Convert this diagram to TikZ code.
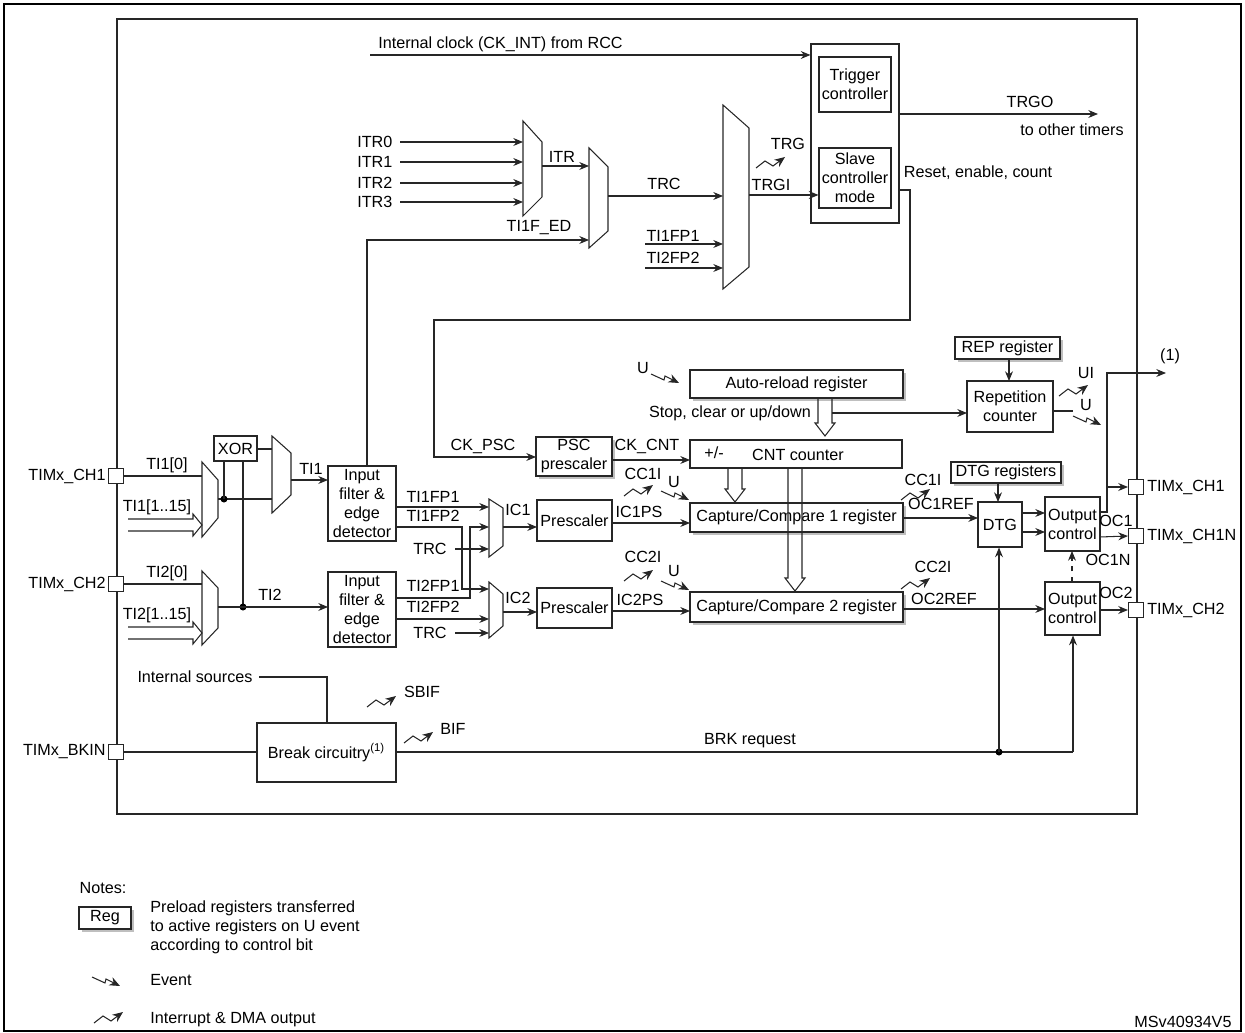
\documentclass[tikz,border=0pt]{standalone}
\usepackage{fontspec}
\setmainfont{Liberation Sans}
\usetikzlibrary{arrows.meta,fit}

\tikzset{
  wire/.style={line width=0.6pt, draw=black!85},
  arr/.style={wire, -{Stealth[length=5.5pt,width=4.5pt]}},
  sigmark/.style={wire, -{Stealth[length=6pt,width=5pt]}},
  box/.style={wire, inner sep=0pt, align=center},
  reg/.style={box, preaction={draw=none, fill=black!25, transform canvas={shift={(3,3)}}}, fill=white},
  lbl/.style={inner sep=0pt, align=center},
  dot/.style={circle, fill=black, inner sep=0pt, minimum size=4pt}
}
% multiplexer trapezoid: x1, y-top-left, y-bottom-left, x2, y-top-right, y-bottom-right
\newcommand{\muxer}[6]{\draw[wire] (#1,#2) -- (#4,#5) -- (#4,#6) -- (#1,#3) -- cycle;}
% event and interrupt marks
\newcommand{\evtmark}[2]{\draw[sigmark] (#1,#2) -- ++(13,6) -- ++(1,-4) -- ++(14,7);}
\newcommand{\irqmark}[2]{\draw[sigmark] (#1,#2) -- ++(9,-7) -- ++(8,5) -- ++(12,-9);}
% hollow arrows
\newcommand{\holdown}[3]{\draw[wire] (#1-7,#2) -- (#1-7,#3-13) -- (#1-10,#3-13) -- (#1,#3) -- (#1+10,#3-13) -- (#1+7,#3-13) -- (#1+7,#2);}
\newcommand{\holright}[3]{\draw[wire] (#1,#3-6) -- (#2-9,#3-6) -- (#2-9,#3-11) -- (#2,#3) -- (#2-9,#3+11) -- (#2-9,#3+6) -- (#1,#3+6);}

\begin{document}
\begin{tikzpicture}[x=0.02cm, y=-0.02cm, font=\fontsize{9.2}{10.8}\selectfont]
\useasboundingbox (0,0) rectangle (1245,1033);
\draw[line width=0.8pt] (4,4) rectangle (1241,1031);
\draw[wire] (117,19) rectangle (1137,814);

% trigger part
\node[box, fit={(811,44)(899,223)}] (ctl) {};
\node[box, fit={(819,57)(891,112)}] (trig) {};
\node[lbl] at (trig.center) {Trigger\\controller};
\node[box, fit={(819,148)(891,208)}] (slave) {};
\node[lbl] at (slave.center) {Slave\\controller\\mode};
\coordinate (ckint) at (370,55);
\draw[arr] (ckint) -- (ckint -| ctl.west);
\node[lbl, anchor=west] at (378,44) {Internal clock (CK\_INT) from RCC};
\coordinate (trgo) at (1098,114);
\draw[arr] (ctl.east |- trgo) -- (trgo);
\node[lbl] at (1030,102) {TRGO};
\node[lbl] at (1072,130) {to other timers};
\node[lbl] at (978,173) {Reset, enable, count};

\muxer{523}{121}{216}{542}{142}{197}
\muxer{589}{148}{248}{608}{167}{231}
\muxer{723}{105}{289}{749}{128}{267}
\foreach \i/\y in {0/142,1/162,2/183,3/202}{
  \node[lbl, anchor=west] (itr\i) at (357,\y) {ITR\i};
  \draw[arr] (400,\y) -- (523,\y);
}
\draw[arr] (542,166) -- (589,166);
\node[lbl] at (562,157) {ITR};
\draw[arr] (608,196) -- (723,196);
\node[lbl] at (664,184) {TRC};
\draw[arr] (645,244) -- (723,244);
\node[lbl] at (673,236) {TI1FP1};
\draw[arr] (645,268) -- (723,268);
\node[lbl] at (673,258) {TI2FP2};
\draw[arr] (749,195) -- (slave.west |- 0,195);
\node[lbl] at (771,185) {TRGI};
\irqmark{756}{168}
\node[lbl] at (788,144) {TRG};

% counter part
\node[box, fit={(536,437)(612,476)}, reg] (psc) {};
\node[lbl] at (psc.center) {PSC\\prescaler};
\draw[arr] (ctl.east |- 0,190) -- (910,190) -- (910,320) -- (434,320) -- (434,457) -- (536,457);
\node[lbl] at (483,446) {CK\_PSC};
\node[box, reg, fit={(690,370)(903,398)}] (arr) {};
\node[lbl] at (arr.center) {Auto-reload register};
\evtmark{651}{374}
\node[lbl] at (643,368) {U};
\node[box, fit={(690,440)(902,468)}] (cnt) {};
\node[lbl] at (714,453) {+/-};
\node[lbl] at (798,455) {CNT counter};
\draw[arr] (612,460) -- (690,460);
\node[lbl] at (647,446) {CK\_CNT};
\holdown{825}{398}{436}
\node[lbl] at (730,413) {Stop, clear or up/down};
\node[box, reg, fit={(955,337)(1060,359)}] (rep) {};
\node[lbl] at (rep.center) {REP register};
\node[box, fit={(967,381)(1053,432)}] (rcnt) {};
\node[lbl] at (rcnt.center) {Repetition\\counter};
\draw[arr] (rep.south -| 1009,0) -- (1009,381);
\draw[arr] (832,413) -- (967,413);
\irqmark{1059}{396}
\node[lbl] at (1086,373) {UI};
\draw[wire] (1053,411) -- (1073,411);
\node[lbl] at (1086,405) {U};
\evtmark{1073}{416}

% capture/compare
\node[box, reg, fit={(690,503)(903,532)}] (cc1) {};
\node[lbl] at (cc1.center) {Capture/Compare 1 register};
\node[box, reg, fit={(690,592)(903,622)}] (cc2) {};
\node[lbl] at (cc2.center) {Capture/Compare 2 register};
\holdown{735}{468}{502}
\holdown{795}{468}{591}
\node[box, fit={(537,500)(612,541)}] (pre1) {};
\node[lbl] at (pre1.center) {Prescaler};
\node[box, fit={(537,588)(612,628)}] (pre2) {};
\node[lbl] at (pre2.center) {Prescaler};
\draw[arr] (612,523) -- (690,523);
\node[lbl] at (639,512) {IC1PS};
\draw[arr] (612,611) -- (690,611);
\node[lbl] at (640,600) {IC2PS};
\irqmark{624}{496}
\node[lbl] at (643,474) {CC1I};
\evtmark{661}{491}
\node[lbl] at (674,482) {U};
\irqmark{624}{581}
\node[lbl] at (643,557) {CC2I};
\evtmark{661}{581}
\node[lbl] at (674,571) {U};

% outputs
\node[box, reg, fit={(951,462)(1061,483)}] (dtgr) {};
\node[lbl] at (dtgr.center) {DTG registers};
\node[box, fit={(978,502)(1022,547)}] (dtg) {};
\node[lbl] at (dtg.center) {DTG};
\draw[arr] (998,483) -- (998,502);
\node[box, fit={(1045,497)(1100,551)}] (oc1) {};
\node[lbl] at (oc1.center) {Output\\control};
\node[box, fit={(1045,582)(1100,635)}] (oc2) {};
\node[lbl] at (oc2.center) {Output\\control};
\draw[arr] (903,518) -- (978,518);
\irqmark{901}{500}
\node[lbl] at (923,480) {CC1I};
\node[lbl] at (941,504) {OC1REF};
\draw[arr] (903,609) -- (1045,609);
\irqmark{901}{589}
\node[lbl] at (933,567) {CC2I};
\node[lbl] at (944,599) {OC2REF};
\draw[arr] (1022,513) -- (1045,513);
\draw[arr] (1022,532) -- (1045,532);
\draw[arr, dashed] (1072,582) -- (1072,551);
\foreach \n/\t/\y in {ch1/TIMx\_CH1/487, ch1n/TIMx\_CH1N/536, ch2/TIMx\_CH2/610}{
  \node[box, fill=white, minimum size=15*0.02cm] (\n) at (1136,\y) {};
  \node[lbl, anchor=west] at (1147,\y) {\t};
}
\draw[arr] (1100,512) -- (1107,512) -- (1107,487) -- (ch1.west);
\draw[arr] (1107,487) -- (1107,373) -- (1166,373);
\node[lbl] at (1170,356) {(1)};
\draw[arr] (1100,537) -- (ch1n.west);
\draw[arr] (1100,610) -- (ch2.west);
\node[lbl] at (1116,521) {OC1};
\node[lbl] at (1108,560) {OC1N};
\node[lbl] at (1116,593) {OC2};

% input part
\foreach \n/\t/\y in {in1/TIMx\_CH1/476, in2/TIMx\_CH2/584, bkin/TIMx\_BKIN/752}{
  \node[box, fill=white, minimum size=15*0.02cm] (\n) at (116,\y) {};
  \node[lbl, anchor=east] at (106,\y) {\t};
}
\muxer{202}{462}{537}{218}{480}{518}
\muxer{202}{571}{645}{218}{588}{628}
\muxer{272}{436}{513}{291}{453}{495}
\node[box, fit={(214,436)(257,461)}] (xor) {};
\node[lbl] at (xor.center) {XOR};
\draw[wire] (in1.east) -- (202,476);
\node[lbl] at (167,465) {TI1[0]};
\holright{128}{202}{525}
\node[lbl] at (157,507) {TI1[1..15]};
\draw[wire] (in2.east) -- (202,584);
\node[lbl] at (167,573) {TI2[0]};
\holright{128}{202}{633}
\node[lbl] at (157,615) {TI2[1..15]};
\draw[wire] (218,499) -- (272,499);
\node[dot] at (224,499) {};
\draw[wire] (224,499) -- (224,461);
\draw[wire] (257,449) -- (272,449);
\draw[wire] (243,461) -- (243,607);
\node[dot] at (243,607) {};
\node[box, fit={(328,466)(396,541)}] (flt1) {};
\node[lbl] at (flt1.center) {Input\\filter \&\\edge\\detector};
\node[box, fit={(328,572)(396,647)}] (flt2) {};
\node[lbl] at (flt2.center) {Input\\filter \&\\edge\\detector};
\draw[arr] (291,480) -- (328,480);
\node[lbl] at (311,469) {TI1};
\draw[arr] (218,607) -- (328,607);
\node[lbl] at (270,595) {TI2};
\draw[arr] (367,466) -- (367,240) -- (589,240);
\node[lbl] at (539,228) {TI1F\_ED};

\muxer{489}{499}{557}{503}{508}{546}
\muxer{489}{582}{638}{503}{594}{626}
\draw[arr] (396,507) -- (489,507);
\node[lbl] at (433,497) {TI1FP1};
\draw[arr] (396,527) -- (462,527) -- (462,589) -- (489,589);
\node[lbl] at (433,516) {TI1FP2};
\draw[arr] (455,549) -- (489,549);
\node[lbl] at (430,549) {TRC};
\draw[arr] (396,598) -- (470,598) -- (470,527) -- (489,527);
\node[lbl] at (433,586) {TI2FP1};
\draw[arr] (396,619) -- (489,619);
\node[lbl] at (433,607) {TI2FP2};
\draw[arr] (455,633) -- (489,633);
\node[lbl] at (430,633) {TRC};
\draw[arr] (503,527) -- (537,527);
\node[lbl] at (518,510) {IC1};
\draw[arr] (503,612) -- (537,612);
\node[lbl] at (518,598) {IC2};

% break
\node[box, fit={(257,723)(396,782)}] (brk) {};
\node[lbl] at (brk.center) {Break circuitry\textsuperscript{(1)}};
\draw[wire] (bkin.east) -- (brk.west |- bkin);
\node[lbl] at (195,677) {Internal sources};
\draw[wire] (259,677) -- (327,677) -- (brk.north -| 327,0);
\irqmark{367}{707}
\node[lbl] at (422,692) {SBIF};
\irqmark{404}{743}
\node[lbl] at (453,729) {BIF};
\draw[wire] (brk.east |- 0,752) -- (1073,752);
\node[lbl] at (750,741) {BRK request};
\node[dot] at (999,752) {};
\draw[arr] (999,752) -- (dtg.south -| 999,0);
\draw[arr] (1073,752) -- (oc2.south -| 1073,0);

% notes
\node[lbl] at (103,888) {Notes:};
\node[box, reg, fit={(79,907)(131,929)}] (regn) {};
\node[lbl] at (regn.center) {Reg};
\node[lbl, anchor=north west, align=left] at (150,900) {Preload registers transferred\\to active registers on U event\\according to control bit};
\evtmark{92}{977}
\node[lbl, anchor=west] at (150,980) {Event};
\irqmark{94}{1023}
\node[lbl, anchor=west] at (150,1020) {Interrupt \& DMA output};
\node[lbl] at (1183,1022) {MSv40934V5};
\end{tikzpicture}
\end{document}
